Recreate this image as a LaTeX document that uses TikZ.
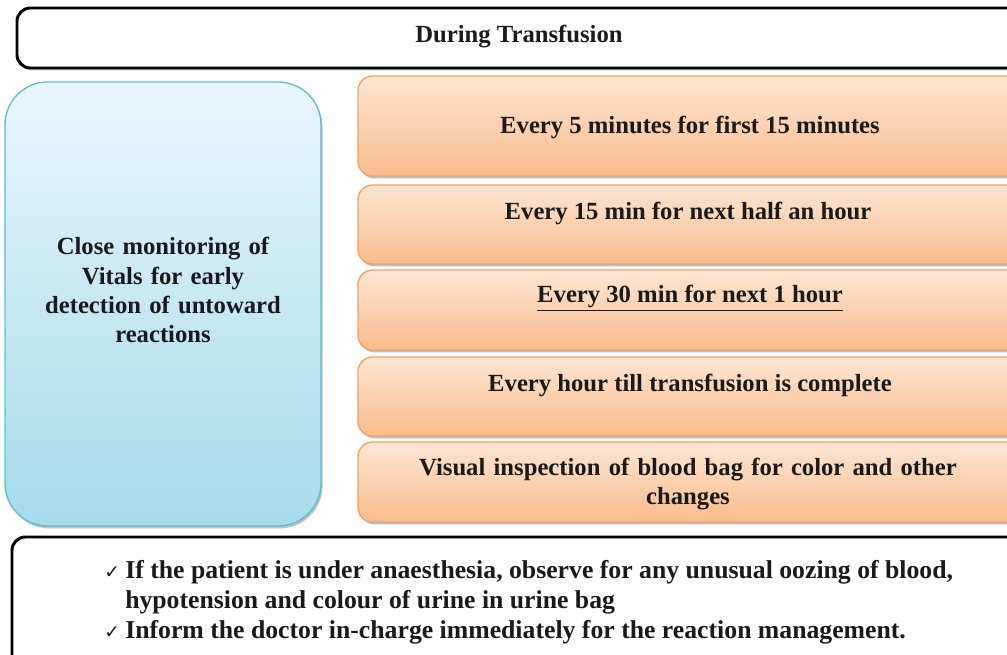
\documentclass[tikz,border=0pt]{standalone}
\usepackage{fontspec}
\setmainfont{Liberation Serif}
\newfontfamily\symfont{DejaVu Sans}
\usetikzlibrary{shadows}

\definecolor{bluetop}{HTML}{E9F6FB}
\definecolor{bluebot}{HTML}{A5DBEA}
\definecolor{blueline}{HTML}{5BBFD2}
\definecolor{orangetop}{HTML}{FDE6D3}
\definecolor{orangebot}{HTML}{F9BC8C}
\definecolor{orangeline}{HTML}{F4A262}
\definecolor{textdark}{HTML}{1A1A1A}

\newcommand{\tick}{\llap{{\symfont\fontsize{14}{15}\selectfont ✓}\hspace{4pt}}}

\tikzset{
  softshadow/.style={drop shadow={shadow xshift=1.2pt, shadow yshift=-1.8pt, fill=black!45, opacity=0.55}},
  framebox/.style={draw=black, line width=2.2pt, fill=white, rounded corners=10pt, softshadow},
  vitalbox/.style={draw=blueline, line width=1pt, top color=bluetop, bottom color=bluebot, rounded corners=32pt, softshadow},
  stepbox/.style={draw=orangeline, line width=1pt, top color=orangetop, bottom color=orangebot, rounded corners=11pt, softshadow},
  boxtext/.style={text=textdark, font=\fontsize{18.5}{21.8}\selectfont\bfseries, align=center, inner sep=0pt},
  notetext/.style={text=textdark, font=\fontsize{19.3}{22.5}\selectfont\bfseries, align=left, inner sep=0pt}
}

\begin{document}
\begin{tikzpicture}[x=0.75pt, y=-0.75pt]
\useasboundingbox (0,0) rectangle (1007,654);

% heading frame
\path[framebox] (17,8) rectangle (1040,68);
\node[boxtext] (title) at (519,37) {During Transfusion};

% vitals column
\path[vitalbox] (5,82) rectangle (321,526);
\node[boxtext, text width=250pt] (vitals) at (163,290)
  {Close monitoring of\\Vitals for early\\detection of untoward\\reactions};

% monitoring schedule
\path[stepbox] (358,76)  rectangle (1040,176);
\path[stepbox] (358,185) rectangle (1040,264);
\path[stepbox] (358,270) rectangle (1040,350);
\path[stepbox] (358,357) rectangle (1040,436);
\path[stepbox] (358,442) rectangle (1040,522);

\node[boxtext] (s1) at (690,127) {Every 5 minutes for first 15 minutes};
\node[boxtext] (s2) at (688,213) {Every 15 min for next half an hour};
\node[boxtext] (s3) at (690,298) {\underline{Every 30 min for next 1 hour}};
\node[boxtext] (s4) at (690,385) {Every hour till transfusion is complete};
\node[boxtext, text width=560pt] (s5) at (688,484)
  {Visual inspection of blood bag for color and other\\changes};

% notes frame
\path[framebox] (12,537) rectangle (1040,700);
\node[notetext, anchor=north west] (notes) at (125,560)
  {\tick If the patient is under anaesthesia, observe for any unusual oozing of blood,\\
   hypotension and colour of urine in urine bag\\
   \tick Inform the doctor in-charge immediately for the reaction management.};
\end{tikzpicture}
\end{document}
